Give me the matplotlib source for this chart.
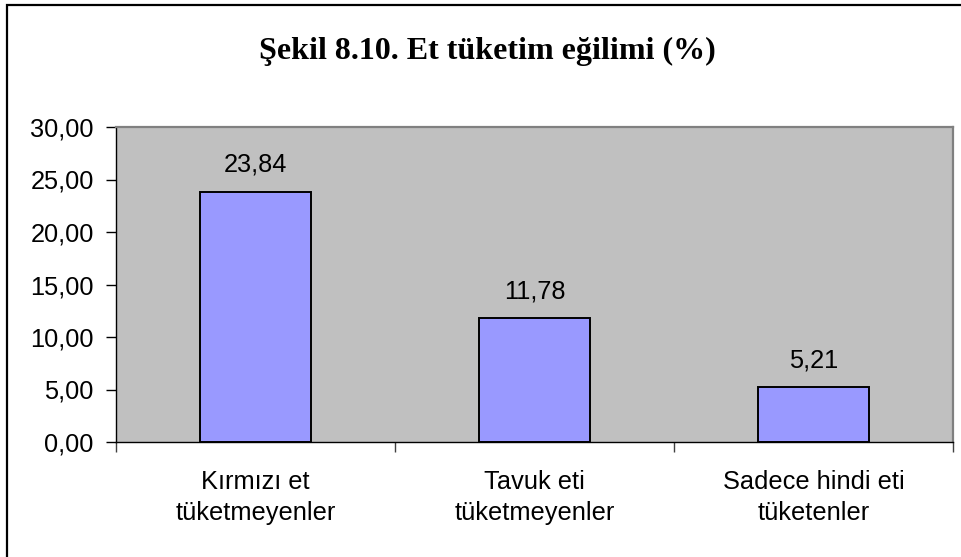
import numpy as np
import matplotlib.pyplot as plt
from matplotlib.patches import Rectangle
from matplotlib.ticker import FixedLocator, FuncFormatter

# Meat consumption tendency (%)
categories = ["Kırmızı et\ntüketmeyenler", "Tavuk eti\ntüketmeyenler", "Sadece hindi eti\ntüketenler"]
values = [23.84, 11.78, 5.21]
y_ticks = [0, 5, 10, 15, 20, 25, 30]
title = "Şekil 8.10. Et tüketim eğilimi (%)"

W, H = 961, 557
fig = plt.figure(figsize=(W / 100, H / 100), dpi=100)
fig.patch.set_facecolor("white")

# chart frame (only top and left edges fall inside the image)
fig.patches.append(Rectangle((7 / W, -0.1), 1.2, 1 - 5 / H + 0.1, transform=fig.transFigure,
                             fill=False, edgecolor="black", linewidth=1.6))

left, right, top, bottom = 116, 953, 127, 442
ax = fig.add_axes([left / W, 1 - bottom / H, (right - left) / W, (bottom - top) / H])
ax.set_facecolor("#C0C0C0")

fs = 18.3
x = np.arange(len(values))
ax.bar(x, values, width=0.4, color="#9999FF", edgecolor="black", linewidth=1.4, zorder=3)
for xi, v in zip(x, values):
    ax.text(xi, v + 1.4, f"{v:.2f}".replace(".", ","), ha="center", va="bottom",
            fontsize=fs, family="Liberation Sans")

ax.set_xlim(-0.5, len(values) - 0.5)
ax.set_ylim(0, 30)

ax.yaxis.set_major_locator(FixedLocator(y_ticks))
ax.yaxis.set_major_formatter(FuncFormatter(lambda v, p: f"{v:.2f}".replace(".", ",")))
ax.tick_params(axis="y", direction="out", length=7, width=1, pad=9, labelsize=fs)

# boundary ticks between categories, labels centred under bars
ax.xaxis.set_major_locator(FixedLocator(np.arange(len(values) + 1) - 0.5))
ax.xaxis.set_major_formatter(FuncFormatter(lambda v, p: ""))
ax.xaxis.set_minor_locator(FixedLocator(x))
ax.set_xticklabels(categories, minor=True)
ax.tick_params(axis="x", which="major", direction="out", length=7, width=1, color="#404040")
ax.tick_params(axis="x", which="minor", length=0, pad=20, labelsize=fs)
for lbl in ax.get_xticklabels(minor=True) + ax.get_yticklabels():
    lbl.set_family("Liberation Sans")
    lbl.set_linespacing(1.37)

for s in ("top", "right"):
    ax.spines[s].set_color("#808080")
    ax.spines[s].set_linewidth(1.6)
for s in ("left", "bottom"):
    ax.spines[s].set_color("black")
    ax.spines[s].set_linewidth(1.0)

fig.text(487 / W, 1 - 51 / H, title, ha="center", va="center",
         fontsize=23, fontweight="bold", family="Liberation Serif")

fig.savefig("out.png", dpi=100)
